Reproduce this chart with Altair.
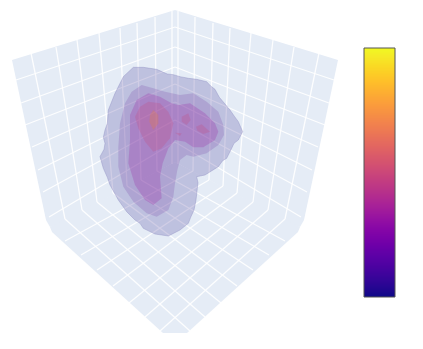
import altair as alt
import pandas as pd

# ---- reference-pixel plane ----
LEFT_WALL = [(12,60),(175,10),(175,162),(56,225),(50,227),(46,220)]
RIGHT_WALL = [(338,60),(175,10),(175,162),(294,225),(300,227),(304,220)]
FLOOR = [(50,227),(175,162),(300,227),(298,232),(187,333),(163,333),(52,232)]

WALL_V = [(31,53,65,219),(56,47,82,210),(77,40,97,202),(99,33,113,193),
          (120,28,127,186),(137,23,141,180),(155,17,157,171),(172,11,172,164)]
WALL_V_R = [(319,53,285,219),(294,47,268,210),(273,40,253,202),(251,33,237,193),
            (230,28,223,186),(213,23,209,180),(195,17,193,171),(178,11,178,164)]
WALL_H = [(16,80,175,27),(21,103,175,47),(25,125,175,67),(32,147,175,84),
          (38,170,175,102),(43,192,175,120),(49,217,175,142)]
WALL_H_R = [(334,80,175,27),(329,103,175,47),(325,125,175,67),(318,147,175,84),
            (312,170,175,102),(307,192,175,120),(301,217,175,142)]
FLOOR_A = [(65,219,190,331),(82,210,205,317),(97,202,221,303),(113,193,237,286),
           (127,186,253,270),(141,180,269,255),(157,171,285,241)]
FLOOR_B = [(285,219,160,331),(268,210,145,317),(253,202,129,303),(237,193,113,286),
           (223,186,97,270),(209,180,81,255),(193,171,65,241)]

# isosurface outlines, from 3x crop with origin (90,60)
SHELL_1 = [(130,22),(160,22),(200,28),(232,42),(250,44),(270,50),(296,55),(320,58),(350,65),(362,78),(375,88),
           (388,112),(395,120),(420,150),(434,170),(445,185),(458,215),(445,240),(432,250),(425,265),(410,295),
           (398,302),(385,320),(345,345),(320,350),(324,368),(322,385),(318,420),(312,450),(302,472),(295,490),
           (270,510),(235,528),(195,522),(160,505),(150,490),(135,480),(110,455),(85,420),(60,375),(52,352),(40,325),
           (30,290),(42,268),(45,250),(40,232),(45,210),(52,190),(55,150),(75,100),(100,50)]
SHELL_2 = [(155,75),(190,85),(225,95),(270,105),(310,100),(350,125),(385,155),(400,195),(402,225),
           (385,255),(350,280),(310,290),(290,285),(270,300),(262,330),(255,370),(250,410),(235,450),
           (200,470),(170,460),(130,425),(100,380),(85,320),(85,260),(90,190),(105,130),(125,95)]
SHELL_3 = [(175,100),(210,110),(245,130),(265,135),(300,130),(345,160),(375,190),(385,215),(375,240),
           (340,262),(310,262),(285,245),(255,240),(235,265),(218,310),(210,350),(215,415),(190,435),
           (165,420),(135,375),(115,310),(120,240),(120,165),(140,120)]
SHELL_4 = [(175,125),(210,130),(235,155),(250,190),(240,235),(215,265),(190,275),(165,245),(145,205),
           (135,170),(150,140)]
SHELL_4B = [(275,170),(295,160),(302,180),(290,195),(275,185)]
SHELL_4C = [(318,200),(335,193),(360,215),(340,222),(322,212)]
SHELL_4D = [(255,218),(275,220),(270,228)]
SHELL_5 = [(190,150),(205,165),(205,190),(190,210),(178,185),(180,165)]

CBAR_ROWS = list(range(48, 297))

X = alt.Scale(domain=[8, 415], nice=False, zero=False)
Y = alt.Scale(domain=[341, 8], nice=False, zero=False)
xe = alt.X("x:Q", scale=X, axis=None)
ye = alt.Y("y:Q", scale=Y, axis=None)


def crop(pts):
    return [(90 + a / 3, 60 + b / 3) for a, b in pts]


def poly(pts, fill, opacity=1.0, stroke=None, sw=0.0):
    rows = [{"x": a, "y": b, "i": k} for k, (a, b) in enumerate(list(pts) + [pts[0]])]
    kw = dict(fill=fill, fillOpacity=opacity, strokeWidth=sw, stroke=stroke or fill, strokeOpacity=0.8 if stroke else 0)
    return alt.Chart(pd.DataFrame(rows)).mark_line(**kw).encode(x=xe, y=ye, order="i:Q")


segs = WALL_V + WALL_V_R + WALL_H + WALL_H_R + FLOOR_A + FLOOR_B
grid = alt.Chart(pd.DataFrame(segs, columns=["x", "y", "x2", "y2"])).mark_rule(
    color="white", strokeWidth=1.3, opacity=0.9
).encode(x=xe, y=ye, x2="x2:Q", y2="y2:Q")

bar_rows = [{"x": 364, "x2": 395, "y": r, "y2": r + 1, "v": (296.5 - r) / 249} for r in CBAR_ROWS]
cbar = alt.Chart(pd.DataFrame(bar_rows)).mark_rect(stroke=None).encode(
    x=xe, y=ye, x2="x2:Q", y2="y2:Q",
    color=alt.Color("v:Q", scale=alt.Scale(scheme="plasma", domain=[0, 1]), legend=None),
)
frame = alt.Chart(pd.DataFrame([{"x": 364, "x2": 395, "y": 48, "y2": 297}])).mark_rect(
    fillOpacity=0, stroke="#555555", strokeWidth=1
).encode(x=xe, y=ye, x2="x2:Q", y2="y2:Q")

bg = "#E5ECF6"
chart = alt.layer(
    poly(LEFT_WALL, bg), poly(RIGHT_WALL, bg), poly(FLOOR, bg),
    grid,
    poly(crop(SHELL_1), "#50469F", 0.26, "#8C8CC0", 0.5),
    poly(crop(SHELL_2), "#7030A0", 0.20),
    poly(crop(SHELL_3), "#9B1EA5", 0.24),
    poly(crop(SHELL_4), "#C84678", 0.24),
    poly(crop(SHELL_4B), "#C84678", 0.24),
    poly(crop(SHELL_4C), "#C84678", 0.24),
    poly(crop(SHELL_4D), "#C84678", 0.24),
    poly(crop(SHELL_5), "#E6823C", 0.28),
    cbar, frame,
).resolve_scale(x="shared", y="shared", color="independent").properties(
    width=407, height=333, padding=0, background="white",
    view=alt.ViewConfig(stroke=None),
)
chart.save("out.html", embed_options={"renderer": "svg", "actions": False})
